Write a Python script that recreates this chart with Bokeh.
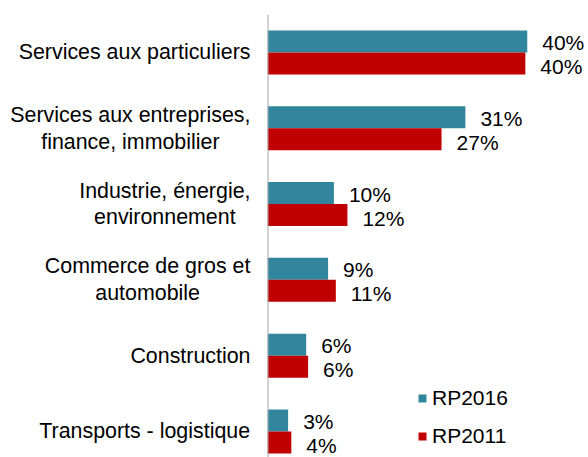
from bokeh.plotting import figure
from bokeh.models import Range1d, ColumnDataSource, Legend, LegendItem
from bokeh.embed import file_html
from bokeh.resources import INLINE
from bokeh.core.properties import value

categories = [
    "Services aux particuliers",
    "Services aux entreprises,\nfinance, immobilier",
    "Industrie, énergie,\nenvironnement",
    "Commerce de gros et\nautomobile",
    "Construction",
    "Transports - logistique",
]
rp2016 = [40.3, 30.7, 10.3, 9.4, 6.0, 3.2]
rp2011 = [40.0, 27.0, 12.4, 10.6, 6.3, 3.7]
labels_2016 = ["40%", "31%", "10%", "9%", "6%", "3%"]
labels_2011 = ["40%", "27%", "12%", "11%", "6%", "4%"]

TEAL = "#31859C"
RED = "#C00000"
FONT = "Liberation Sans"
FS_PX = 21.4
FS = f"{FS_PX}px"
BAR_H = 0.29
STANDOFF = 17

# Arial / Liberation Sans advance widths (per 1000 em) for label width estimation
W = {" ": 278, ",": 278, "-": 333, "a": 556, "b": 556, "c": 500, "d": 556, "e": 556,
     "f": 278, "g": 556, "h": 556, "i": 222, "j": 222, "k": 500, "l": 222, "m": 833,
     "n": 556, "o": 556, "p": 556, "q": 556, "r": 333, "s": 500, "t": 278, "u": 556,
     "v": 500, "w": 722, "x": 500, "y": 500, "z": 500, "é": 556, "S": 667, "I": 278,
     "C": 722, "T": 611}


def text_width(s):
    return max(sum(W.get(ch, 556) for ch in line) for line in s.split("\n")) * FS_PX / 1000.0


n = len(categories)
pos = [n - 1 - i for i in range(n)]

src16 = ColumnDataSource(dict(y=[p + BAR_H / 2 for p in pos], v=rp2016, t=labels_2016))
src11 = ColumnDataSource(dict(y=[p - BAR_H / 2 for p in pos], v=rp2011, t=labels_2011))
srccat = ColumnDataSource(dict(y=pos, t=categories, x=[0] * n,
                               xo=[-(STANDOFF + text_width(c) / 2) for c in categories]))

p = figure(width=588, height=457, output_backend="svg", toolbar_location=None,
           x_range=Range1d(0, 49.8), y_range=Range1d(-0.343, n - 0.5),
           x_axis_location=None, y_axis_location=None,
           min_border_left=267, min_border_right=0,
           min_border_top=14, min_border_bottom=0)
p.outline_line_color = None
p.xgrid.visible = False
p.ygrid.visible = False

r16 = p.hbar(y="y", left=0, right="v", height=BAR_H, source=src16, fill_color=TEAL, line_color=None)
r11 = p.hbar(y="y", left=0, right="v", height=BAR_H, source=src11, fill_color=RED, line_color=None)

# vertical axis line at zero
p.segment(x0=[0], y0=[-0.343], x1=[0], y1=[n - 0.5], line_color="#A6A6A6", line_width=2)

for src, yo in ((src16, 1), (src11, 3)):
    p.text(x="v", y="y", text="t", source=src, x_offset=15, y_offset=yo, text_baseline="middle",
           text_align="left", text_font=value(FONT), text_font_size="21px", text_color="#000000")

cat_text = p.text(x="x", y="y", text="t", source=srccat, x_offset="xo", text_baseline="middle",
                  text_align="center", text_font=value(FONT), text_font_size=FS,
                  text_line_height=1.12, text_color="#000000")
cat_text.level = "overlay"

legend = Legend(items=[LegendItem(label="RP2016", renderers=[r16]),
                       LegendItem(label="RP2011", renderers=[r11])],
                location=(150, 9), glyph_width=10, glyph_height=10, label_standoff=5,
                label_height=24, spacing=14, padding=0, margin=0,
                border_line_color=None, background_fill_alpha=0,
                label_text_font=FONT, label_text_font_size="21px", label_text_color="#000000")
p.add_layout(legend)

open("out.html", "w").write(file_html(p, INLINE))
